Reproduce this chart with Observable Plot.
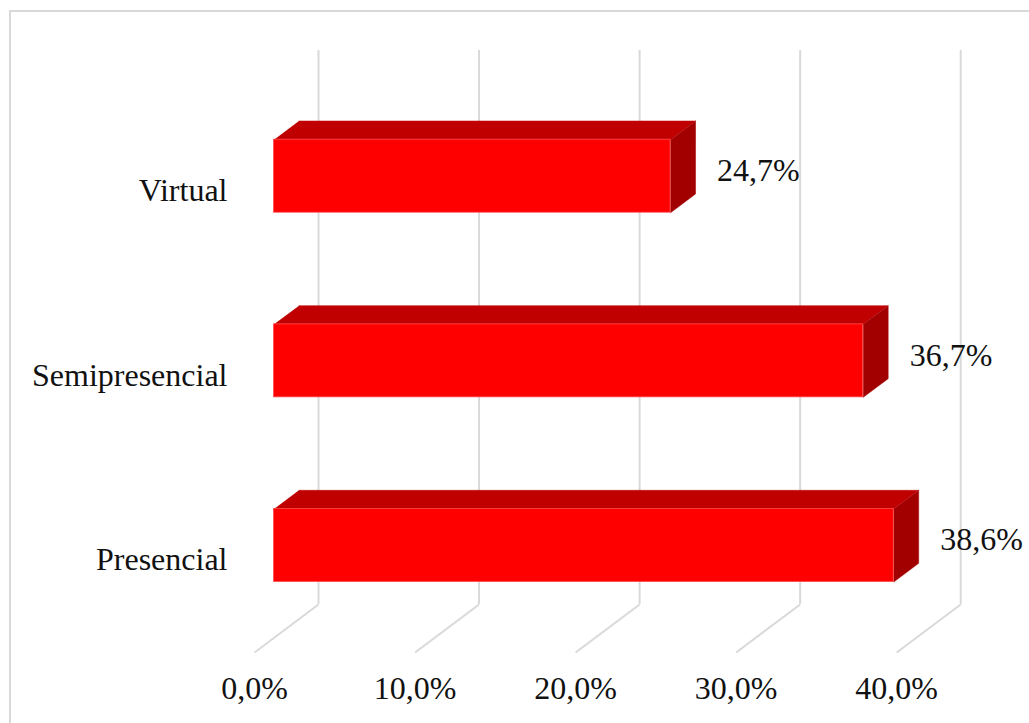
<!DOCTYPE html>
<html><head><meta charset="utf-8">
<script src="https://cdn.jsdelivr.net/npm/d3@7"></script>
<script src="https://cdn.jsdelivr.net/npm/@observablehq/plot@0.6"></script>
<style>
html,body{margin:0;padding:0;background:#fff;overflow:hidden;}
#wrap{position:relative;width:1029px;height:723px;overflow:hidden;}
#border{position:absolute;left:9px;top:10px;width:1100px;height:800px;border-left:2px solid #d9d9d9;border-top:2px solid #d9d9d9;pointer-events:none;}
</style></head><body>
<div id="wrap"><div id="chart"></div><div id="border"></div></div>
<script>
// ---- data ----
const categories = ["Virtual", "Semipresencial", "Presencial"];
const values = [24.7, 36.7, 38.6];
const valueLabels = ["24,7%", "36,7%", "38,6%"];
const ticks = [0, 10, 20, 30, 40];
const tickLabels = ["0,0%", "10,0%", "20,0%", "30,0%", "40,0%"];

// ---- layout ----
const W = 1029, H = 723;
const xDomain = [0, 40], yDomain = [-0.5, 2.5];
const wallX = [318, 960.2], wallY = [50, 604];
const kx = (wallX[1] - wallX[0]) / (xDomain[1] - xDomain[0]);
const ky = (wallY[1] - wallY[0]) / (yDomain[1] - yDomain[0]);
const depth = {dx: -64, dy: 48}; // oblique projection of the floor depth
const zBack = 0.305, zFront = 0.695;
const halfH = 36.5 / ky;
const P = (x, y, z) => ({x: x + z * depth.dx / kx, y: y + z * depth.dy / ky});

const rows = categories.map((c, i) => ({c, i, v: values[i], label: valueLabels[i]}));

const topFaces = rows.flatMap(r => [
  P(0, r.i - halfH, zBack), P(r.v, r.i - halfH, zBack),
  P(r.v, r.i - halfH, zFront), P(0, r.i - halfH, zFront)
].map(p => ({...p, id: r.c})));

const rightFaces = rows.flatMap(r => [
  P(r.v, r.i - halfH, zBack), P(r.v, r.i + halfH, zBack),
  P(r.v, r.i + halfH, zFront), P(r.v, r.i - halfH, zFront)
].map(p => ({...p, id: r.c})));

const fronts = rows.map(r => ({
  x1: P(0, 0, zFront).x, x2: P(r.v, 0, zFront).x,
  y1: P(0, r.i - halfH, zFront).y, y2: P(0, r.i + halfH, zFront).y
}));

const grid = "#d9d9d9";
const font = "'Liberation Serif', 'Times New Roman', serif";
const fs = 32;

const chart = Plot.plot({
  width: W, height: H, margin: 0,
  x: {domain: xDomain, range: wallX, axis: null},
  y: {domain: yDomain, range: wallY, axis: null},
  style: {fontFamily: font, background: "#fff", color: "#000"},
  marks: [
    Plot.ruleX(ticks, {x: d => d, y1: yDomain[0], y2: yDomain[1], stroke: grid, strokeWidth: 2}),
    Plot.link(ticks, {
      x1: d => d, y1: yDomain[1],
      x2: d => P(d, yDomain[1], 1).x, y2: d => P(d, yDomain[1], 1).y,
      stroke: grid, strokeWidth: 2
    }),
    Plot.line(topFaces, {x: "x", y: "y", z: "id", fill: "#c00000", stroke: "#c00000", strokeWidth: 0.5}),
    Plot.line(rightFaces, {x: "x", y: "y", z: "id", fill: "#a20000", stroke: "#a20000", strokeWidth: 0.5}),
    Plot.rect(fronts, {x1: "x1", x2: "x2", y1: "y1", y2: "y2", fill: "#ff0000", stroke: "#ff4d4d", strokeWidth: 0.8}),
    Plot.text(ticks, {
      x: d => P(d, yDomain[1], 1).x, y: d => P(d, yDomain[1], 1).y,
      text: (d, i) => tickLabels[i], dy: 36, fontSize: fs, fill: "#111"
    }),
    Plot.text(rows, {
      x: r => P(0, r.i, 1).x, y: r => P(0, r.i, 1).y,
      text: "c", textAnchor: "end", dx: -27, fontSize: fs, fill: "#111"
    }),
    Plot.text(rows, {x: "v", y: "i", text: "label", textAnchor: "start", dx: 2, dy: 28, fontSize: fs, fill: "#111"})
  ]
});
document.getElementById("chart").appendChild(chart);
</script>
</body></html>
